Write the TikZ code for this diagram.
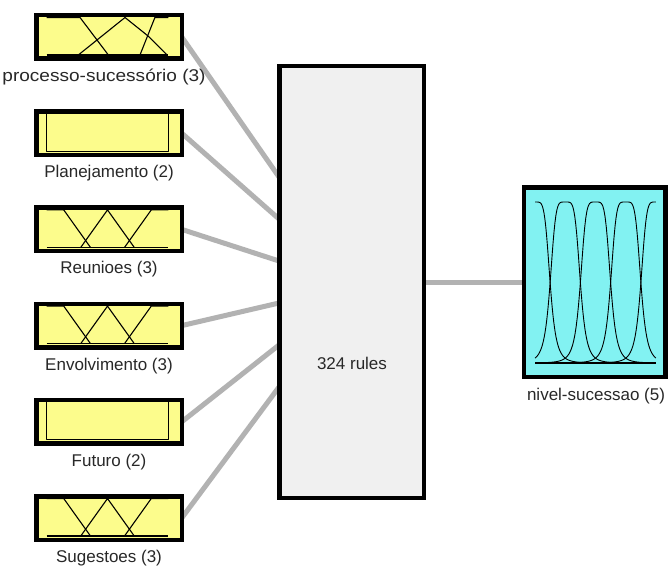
\documentclass[tikz,border=0pt]{standalone}
\usepackage{fontspec}
\setmainfont{Liberation Sans}
\definecolor{inyellow}{RGB}{252,252,140}
\definecolor{outcyan}{RGB}{130,242,242}
\definecolor{rulefill}{RGB}{240,240,240}
\definecolor{conngray}{RGB}{178,178,178}
\definecolor{textgray}{RGB}{40,40,40}
\pgfdeclarelayer{background}
\pgfsetlayers{background,main}
\begin{document}
\begin{tikzpicture}[x=1pt,y=-1pt,
  inbox/.style={draw=black, line width=4.5pt, fill=inyellow, inner sep=0pt, outer sep=0pt, minimum width=145.5pt, minimum height=43.5pt},
  rulebox/.style={draw=black, line width=4.5pt, fill=rulefill, inner sep=0pt, outer sep=0pt, minimum width=144.5pt, minimum height=431.5pt},
  outbox/.style={draw=black, line width=4.5pt, fill=outcyan, inner sep=0pt, outer sep=0pt, minimum width=141.5pt, minimum height=189.5pt},
  conn/.style={draw=conngray, line width=5pt},
  mf/.style={draw=black, line width=1.1pt, line join=round},
  lbl/.style={font=\fontsize{17}{20}\selectfont, text=textgray, inner sep=0pt}]
\useasboundingbox (0,0) rectangle (668,567);

% input boxes
\node[inbox] (b1) at (109,37) {};
\node[inbox] (b2) at (109,133.2) {};
\node[inbox] (b3) at (109,229.4) {};
\node[inbox] (b4) at (109,325.6) {};
\node[inbox] (b5) at (109,421.8) {};
\node[inbox] (b6) at (109,518) {};

% labels
\node[lbl] (l1) at (104,77) {\scalebox{1.12}[1]{processo-sucessório (3)}};
\node[lbl] (l2) at (109,173.2) {Planejamento (2)};
\node[lbl] (l3) at (109,269.4) {Reunioes (3)};
\node[lbl] (l4) at (109,365.6) {Envolvimento (3)};
\node[lbl] (l5) at (109,461.8) {Futuro (2)};
\node[lbl] (l6) at (109,558) {Sugestoes (3)};

% rule box and output box
\node[rulebox] (rule) at (351.5,282) {};
\node[lbl] (rtext) at (352,363) {324 rules};
\node[outbox] (out) at (594.5,282) {};
\node[lbl] (otext) at (596,396) {nivel-sucessao (5)};

% connector endpoints on the rule box
\coordinate (r1) at (279,177);
\coordinate (r2) at (279,219);
\coordinate (r3) at (279,261);
\coordinate (r4) at (279,303);
\coordinate (r5) at (279,345);
\coordinate (r6) at (279,387);

\begin{pgfonlayer}{background}
\fill[white] (0,0) rectangle (668,567);
\draw[conn] (b1.east) -- (r1);
\draw[conn] (b2.east) -- (r2);
\draw[conn] (b3.east) -- (r3);
\draw[conn] (b4.east) -- (r4);
\draw[conn] (b5.east) -- (r5);
\draw[conn] (b6.east) -- (r6);
\draw[conn] (rule.east) -- (out.west);
\end{pgfonlayer}

% MF: processo-sucessorio
\begin{scope}[shift={(46.7,55)}, xscale=121.6, yscale=-37.5]
\draw[mf] (0,1) -- (0.274,1) -- (0.507,0);
\draw[mf] (0.26,0) -- (0.644,1) -- (0.836,0.5) -- (0.99,0);
\draw[mf] (0.767,0) -- (0.89,1) -- (1,1);
\draw[mf] (0,0) -- (1,0);
\end{scope}
% MF: Planejamento
\begin{scope}[shift={(46.7,151.2)}, xscale=121.6, yscale=-37.5]
\draw[mf] (0,1) -- (0,0) -- (1,0) -- (1,1);
\end{scope}
% MF: Reunioes
\begin{scope}[shift={(46.7,247.4)}, xscale=121.6, yscale=-37.5]
\draw[mf] (0,1) -- (0.14,1) -- (0.36,0);
\draw[mf] (0.28,0) -- (0.5,1) -- (0.72,0);
\draw[mf] (0.64,0) -- (0.86,1) -- (1,1);
\draw[mf] (0,0) -- (1,0);
\end{scope}
% MF: Envolvimento
\begin{scope}[shift={(46.7,343.6)}, xscale=121.6, yscale=-37.5]
\draw[mf] (0,1) -- (0.14,1) -- (0.36,0);
\draw[mf] (0.28,0) -- (0.5,1) -- (0.72,0);
\draw[mf] (0.64,0) -- (0.86,1) -- (1,1);
\draw[mf] (0,0) -- (1,0);
\end{scope}
% MF: Futuro
\begin{scope}[shift={(46.7,439.8)}, xscale=121.6, yscale=-37.5]
\draw[mf] (0,1) -- (0,0) -- (1,0) -- (1,1);
\end{scope}
% MF: Sugestoes
\begin{scope}[shift={(46.7,536)}, xscale=121.6, yscale=-37.5]
\draw[mf] (0,1) -- (0.14,1) -- (0.36,0);
\draw[mf] (0.28,0) -- (0.5,1) -- (0.72,0);
\draw[mf] (0.64,0) -- (0.86,1) -- (1,1);
\draw[mf] (0,0) -- (1,0);
\end{scope}

% MF: output
\begin{scope}[shift={(535,363)}, xscale=121, yscale=-161]
\foreach \c/\lo/\hi in {0/0/0.5, 0.25/0/0.75, 0.5/0/1, 0.75/0.25/1, 1/0.5/1}
  \draw[mf, line width=0.9pt] plot[domain=\lo:\hi, samples=101]
    (\x, {1/(1+((\x-\c)*8)*((\x-\c)*8)*((\x-\c)*8)*((\x-\c)*8)*abs((\x-\c)*8))});
\draw[mf] (0,0) -- (1,0);
\end{scope}
\end{tikzpicture}
\end{document}
